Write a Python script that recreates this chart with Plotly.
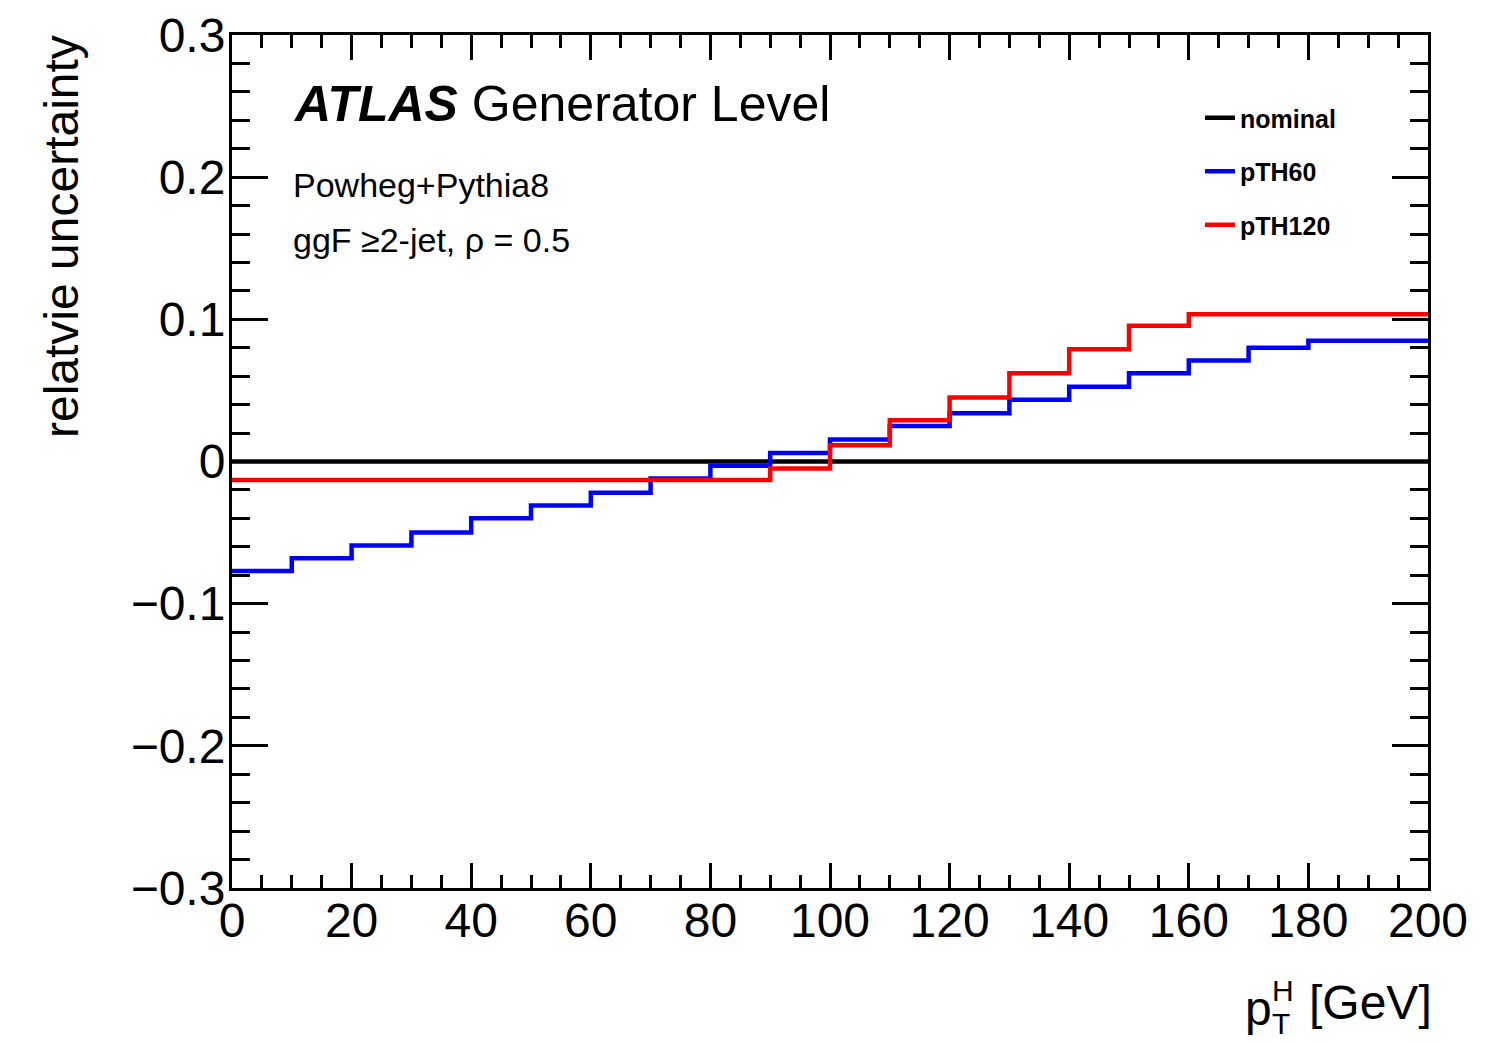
import plotly.graph_objects as go

# bin edges (GeV) and bin contents
bin_edges = [0, 10, 20, 30, 40, 50, 60, 70, 80, 90, 100,
             110, 120, 130, 140, 150, 160, 170, 180, 190, 200]
nominal = [0.0] * 20
pth60 = [-0.077, -0.068, -0.059, -0.050, -0.040, -0.031, -0.022, -0.012,
         -0.003, 0.006, 0.0155, 0.025, 0.034, 0.0435, 0.0525, 0.062,
         0.071, 0.080, 0.085, 0.085]
pth120 = [-0.013, -0.013, -0.013, -0.013, -0.013, -0.013, -0.013, -0.013,
          -0.013, -0.005, 0.0115, 0.029, 0.045, 0.062, 0.079, 0.0955,
          0.1035, 0.1035, 0.1035, 0.1035]

series_names = ["nominal", "pTH60", "pTH120"]
series_values = [nominal, pth60, pth120]
series_colors = ["#000000", "#0000ff", "#ff0000"]

y_tickvals = [-0.3, -0.2, -0.1, 0, 0.1, 0.2, 0.3]
y_ticktext = ["\u22120.3", "\u22120.2", "\u22120.1", "0", "0.1", "0.2", "0.3"]
x_tickvals = [0, 20, 40, 60, 80, 100, 120, 140, 160, 180, 200]
x_ticktext = ["0", "20", "40", "60", "80", "100", "120", "140", "160", "180", "200"]

FONT = "Liberation Sans, Arial, Helvetica, sans-serif"
W, H = 1485, 1043
L, R, T, B = 232, 57, 35, 155
PW, PH = W - L - R, H - T - B


def px(xp):
    return (xp - L) / PW


def py(yp):
    return (H - B - yp) / PH


fig = go.Figure()
for name, vals, col in zip(series_names, series_values, series_colors):
    fig.add_trace(go.Scatter(
        x=bin_edges, y=vals + [vals[-1]], mode="lines", name=name,
        line=dict(color=col, width=4.5, shape="hv"), legendgroup=name,
    ))

axis_common = dict(
    showgrid=False, zeroline=False, showline=True, linecolor="black",
    linewidth=3, mirror="ticks", ticks="inside", tickcolor="black",
    tickwidth=2.5, tickfont=dict(family=FONT, size=48, color="black"),
)

fig.update_xaxes(range=[0, 200], tickvals=x_tickvals, ticktext=x_ticktext,
                 ticklen=25, ticklabelstandoff=-12,
                 minor=dict(dtick=5, tick0=0, ticklen=13, ticks="inside",
                            tickcolor="black", tickwidth=2.5),
                 **axis_common)
fig.update_yaxes(range=[-0.3, 0.3], tickvals=y_tickvals, ticktext=y_ticktext,
                 ticklen=36, ticklabelstandoff=-6,
                 minor=dict(dtick=0.02, tick0=0, ticklen=18, ticks="inside",
                            tickcolor="black", tickwidth=2.5),
                 **axis_common)

annots = [
    dict(x=px(291), y=py(104), text="<b><i>ATLAS</i></b> Generator Level",
         xanchor="left", yanchor="middle", font=dict(size=50)),
    dict(x=px(291), y=py(185), text="Powheg+Pythia8",
         xanchor="left", yanchor="middle", font=dict(size=34)),
    dict(x=px(291), y=py(240), text="ggF \u22652-jet, \u03c1 = 0.5",
         xanchor="left", yanchor="middle", font=dict(size=34)),
    dict(x=px(62), y=py(237), text="relatvie uncertainty", textangle=-90,
         xanchor="center", yanchor="middle", font=dict(size=48)),
    dict(x=px(1258), y=py(1008), text="p", xanchor="center",
         yanchor="middle", font=dict(size=48)),
    dict(x=px(1283), y=py(990), text="H", xanchor="center",
         yanchor="middle", font=dict(size=30)),
    dict(x=px(1281), y=py(1024), text="T", xanchor="center",
         yanchor="middle", font=dict(size=30)),
    dict(x=px(1434), y=py(1002), text="[GeV]", xanchor="right",
         yanchor="middle", font=dict(size=48)),
]
for a in annots:
    a.update(xref="paper", yref="paper", showarrow=False)
    a["font"].update(family=FONT, color="black")
fig.update_layout(annotations=annots)

fig.update_layout(
    width=W, height=H,
    margin=dict(l=L, r=R, t=T, b=B, autoexpand=False),
    paper_bgcolor="white", plot_bgcolor="white",
    showlegend=True,
    legend=dict(x=px(1200), y=py(95), xanchor="left", yanchor="top",
                font=dict(family=FONT, size=25, color="black", weight="bold"),
                bgcolor="rgba(0,0,0,0)", tracegroupgap=18, itemwidth=30),
)

fig.write_html("out.html")
